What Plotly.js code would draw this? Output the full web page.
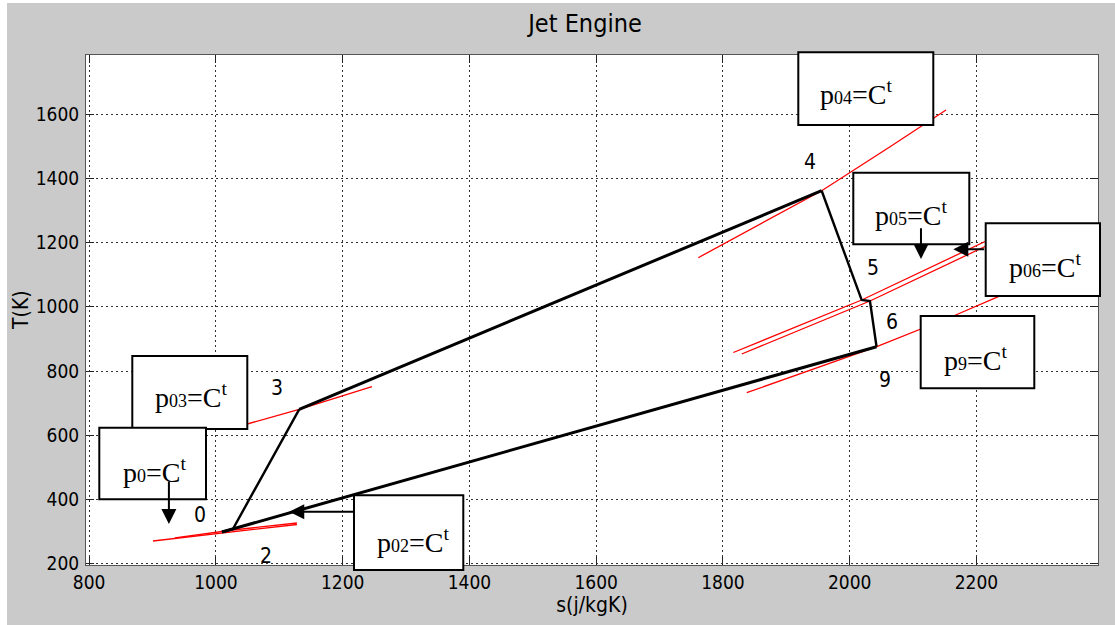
<!DOCTYPE html>
<html>
<head>
<meta charset="utf-8">
<script src="https://cdn.plot.ly/plotly-3.0.1.min.js"></script>
<style>
html,body{margin:0;padding:0;background:#ffffff;width:1115px;height:625px;overflow:hidden;}
#chart{position:absolute;left:7px;top:3px;width:1108px;height:622px;}
</style>
</head>
<body>
<div id="chart"></div>
<script>
// ---- Data (s in J/kgK, T in K) ----
const stateNames = ['0', '2', '3', '4', '5', '6', '9'];
const stateS = [1009.5, 1026.8, 1131.4, 1955.7, 2018.8, 2031.9, 2042.3];
const stateT = [298.8, 308.2, 680.8, 1361.2, 1021.0, 1017.9, 875.6];

// isobar sketches (red)
const isoP0S  = [900.6, 1009.5, 1127.8];
const isoP0T  = [270.8, 295.7, 322.2];
const isoP02S = [935.3, 1026.8, 1127.8];
const isoP02T = [280.5, 305.0, 326.8];
const isoP03S = [1018.9, 1131.4, 1246.2];
const isoP03T = [617.9, 680.8, 751.1];
const isoP04S = [1761.0, 1955.7, 2063.6, 2151.9];
const isoP04T = [1152.7, 1361.2, 1498.3, 1612.5];
const isoP05S = [1816.3, 2018.8, 2213.5];
const isoP05T = [857.6, 1021.0, 1203.1];
const isoP06S = [1829.6, 2031.9, 2213.5];
const isoP06T = [853.0, 1017.9, 1187.6];
const isoP9S  = [1837.5, 2042.6, 2163.5, 2234.5];
const isoP9T  = [732.5, 875.7, 971.3, 1031.3];

const isobarLabels = ['04', '05', '06', '9', '03', '0', '02'];
const xTicks = [800, 1000, 1200, 1400, 1600, 1800, 2000, 2200];
const yTicks = [200, 400, 600, 800, 1000, 1200, 1400, 1600];

// ---- Layout constants ----
const XR = [795, 2391.7], YR = [196.1, 1783.7];
const narrow = "'Liberation Sans Narrow','DejaVu Sans Condensed','Roboto Condensed','Arial Narrow',sans-serif";
const serif = "'Liberation Serif','Times New Roman',serif";

// page-pixel helpers for plot area (left 86, right 1098, top 55, bottom 565)
const PL = 86, PW = 1012, PB = 565, PH = 510;
const px2x = p => (p - PL) / PW;
const px2y = p => (PB - p) / PH;

function seg(idx) {
  return { s: idx.map(i => stateS[i]), t: idx.map(i => stateT[i]) };
}
const thin1 = seg([0, 1, 2]);
const thin2 = seg([3, 4, 5, 6]);
const thick1 = seg([2, 3]);
const thick2 = seg([6, 0]);

const red = (s, t) => ({ x: s, y: t, type: 'scatter', mode: 'lines', line: { color: '#ff0000', width: 1.3 }, hoverinfo: 'skip' });
const blk = (o, w) => ({ x: o.s, y: o.t, type: 'scatter', mode: 'lines', line: { color: '#000000', width: w }, hoverinfo: 'skip' });

const traces = [
  red(isoP0S, isoP0T), red(isoP02S, isoP02T), red(isoP03S, isoP03T), red(isoP04S, isoP04T),
  red(isoP05S, isoP05T), red(isoP06S, isoP06T), red(isoP9S, isoP9T),
  blk(thin1, 2.4), blk(thin2, 2.4), blk(thick1, 3), blk(thick2, 3)
];

// boxes in page px: [left, top, right, bottom], text left, text baseline
const boxes = [
  [798.3, 52.3, 933.3, 125, 818, 104],
  [853.3, 172.7, 969.3, 244.3, 873.3, 225],
  [985.7, 223.3, 1100, 296, 1006.7, 276.7],
  [920.7, 316, 1034.3, 388.3, 941.7, 370],
  [132.3, 356, 247.3, 429, 153.3, 406.7],
  [99.3, 427.7, 206, 499.3, 120.7, 481.7],
  [354, 495.3, 463.3, 570, 375, 551.7]
];
const FS = 28;
const shapes = boxes.map(b => ({
  type: 'rect', xref: 'paper', yref: 'paper', layer: 'above',
  x0: px2x(b[0]), x1: px2x(b[2]), y0: px2y(b[3]), y1: px2y(b[1]),
  fillcolor: '#ffffff', line: { color: '#000000', width: 2 }
}));

const annotations = [];
boxes.forEach((b, i) => {
  annotations.push({
    xref: 'paper', yref: 'paper', x: px2x(b[4]), y: px2y(b[5] - 0.3 * FS - 3),
    xanchor: 'left', yanchor: 'middle', showarrow: false,
    text: 'p<span style="font-size:18px">' + isobarLabels[i] + '</span>=C<sup>t</sup>',
    font: { family: serif, size: FS, color: '#000' }
  });
});

// state labels (offsets in px)
const labelShift = [[-22, 17], [33, -27], [-22.6, 21], [-11.7, 29], [11.6, 31.7], [22.3, -20.7], [8.5, -33.3]];
stateNames.forEach((n, i) => {
  annotations.push({
    x: stateS[i], y: stateT[i], xref: 'x', yref: 'y', text: n, showarrow: false,
    xshift: labelShift[i][0], yshift: labelShift[i][1],
    font: { family: narrow, size: 21, color: '#000' }
  });
});

// y-axis title placed as rotated text
annotations.push({
  xref: 'paper', yref: 'paper', x: px2x(21), y: px2y(310), text: 'T(K)', textangle: -90,
  showarrow: false, xanchor: 'center', yanchor: 'middle',
  font: { family: narrow, size: 21, color: '#000' }
});

// arrows: tip in data coords, tail offset in px
const arrows = [
  [925.8, 323.7, 0, -44],
  [1115.7, 362.0, 65.7, 0],
  [2112.4, 1148.7, 0, -32.3],
  [2163.4, 1178.9, 32.4, 0]
];
arrows.forEach(a => {
  annotations.push({
    x: a[0], y: a[1], xref: 'x', yref: 'y', ax: a[2], ay: a[3], axref: 'pixel', ayref: 'pixel',
    text: '', showarrow: true, arrowhead: 2, arrowsize: 1.5, arrowwidth: 2, arrowcolor: '#000', standoff: 0
  });
});

const axisCommon = {
  showline: true, linecolor: '#555', linewidth: 1, mirror: 'ticks',
  ticks: 'inside', ticklen: 8, tickcolor: '#222', tickwidth: 1,
  showgrid: true, gridcolor: '#333', griddash: '2px,3px', gridwidth: 1,
  zeroline: false, tickfont: { family: narrow, size: 19, color: '#000' }
};

const layout = {
  width: 1108, height: 622,
  margin: { l: 79, r: 17, t: 52, b: 60, pad: 0 },
  paper_bgcolor: '#cacaca', plot_bgcolor: '#ffffff',
  showlegend: false,
  title: { text: 'Jet Engine', font: { family: narrow, size: 25, color: '#000' }, xref: 'container', x: (585 - 7) / 1108, xanchor: 'center', yref: 'container', y: 1 - 20 / 622, yanchor: 'middle' },
  xaxis: Object.assign({}, axisCommon, { range: XR, tickvals: xTicks, ticktext: xTicks.map(String), title: { text: 's(j/kgK)', font: { family: narrow, size: 21, color: '#000' }, standoff: 3 } }),
  yaxis: Object.assign({}, axisCommon, { range: YR, tickvals: yTicks, ticktext: yTicks.map(String), ticklabelstandoff: 2 }),
  shapes: shapes,
  annotations: annotations
};

Plotly.newPlot('chart', traces, layout, { staticPlot: true, displayModeBar: false });
</script>
</body>
</html>
